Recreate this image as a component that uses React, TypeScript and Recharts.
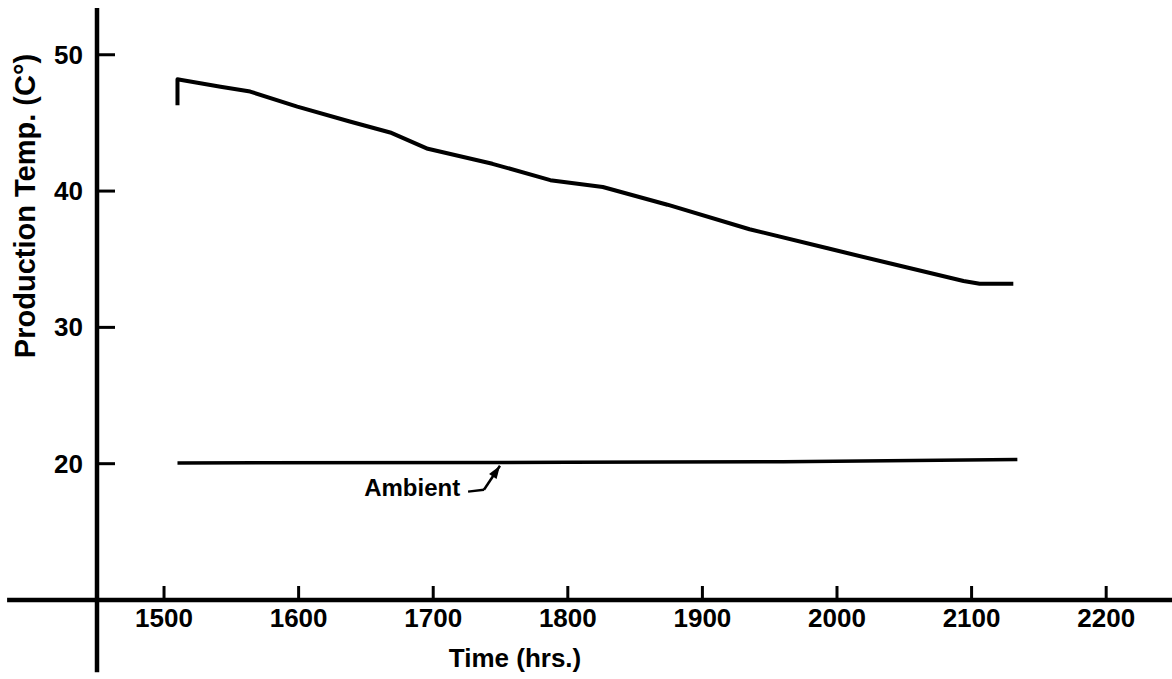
import React from "react";
import {
  LineChart,
  Line,
  XAxis,
  YAxis,
  ReferenceLine,
  ReferenceDot,
  Label,
} from "recharts";

// production temperature trace
const hours = [1510, 1510, 1513, 1542, 1564, 1599, 1638, 1668, 1696, 1744, 1787, 1826, 1874, 1935, 1993, 2039, 2094, 2106, 2131];
const productionTemp = [46.3, 48.2, 48.15, 47.65, 47.3, 46.2, 45.1, 44.3, 43.1, 42.0, 40.8, 40.3, 39.0, 37.2, 35.8, 34.7, 33.4, 33.2, 33.2];

// ambient line
const ambientHours = [1510, 1800, 1960, 2134];
const ambientTemp = [20.05, 20.1, 20.15, 20.3];

const xTicks = [1500, 1600, 1700, 1800, 1900, 2000, 2100, 2200];
const yTicks = [20, 30, 40, 50];

const X_DOMAIN: [number, number] = [1450.2, 2248.9];
const Y_DOMAIN: [number, number] = [10, 53.43];

// axis overhang past the crossing point
const X_AXIS_LEFT_END = 1383.4;
const Y_AXIS_BOTTOM_END = 4.7;

// "Ambient" callout arrow: tail, bend, tip
const arrowPath = [
  { x: 1725.9, y: 17.95 },
  { x: 1737.7, y: 18.09 },
  { x: 1749.6, y: 19.85 },
];
const ambientLabelPos = { x: 1720, y: 17.62 };

const productionData = hours.map((t, i) => ({ t, temp: productionTemp[i] }));
const ambientData = ambientHours.map((t, i) => ({ t, temp: ambientTemp[i] }));

const FONT = "'Liberation Sans', Arial, sans-serif";

const XTick = ({ x, y, payload }: any) => (
  <g>
    <line x1={x} y1={y} x2={x} y2={y - 14} stroke="#000" strokeWidth={3} />
    <text
      x={x}
      y={y + 27}
      textAnchor="middle"
      fontFamily={FONT}
      fontWeight="bold"
      fontSize={26}
      fill="#000"
    >
      {payload.value}
    </text>
  </g>
);

const YTick = ({ x, y, payload }: any) => (
  <g>
    <line x1={x} y1={y} x2={x + 18} y2={y} stroke="#000" strokeWidth={3} />
    <text
      x={x - 14}
      y={y + 9}
      textAnchor="end"
      fontFamily={FONT}
      fontWeight="bold"
      fontSize={26}
      fill="#000"
    >
      {payload.value}
    </text>
  </g>
);

const ArrowHead = ({ cx, cy }: any) => {
  if (cx == null || cy == null) return null;
  const ux = 0.55;
  const uy = -0.835;
  const len = 13;
  const hw = 4.5;
  const bx = cx - ux * len;
  const by = cy - uy * len;
  const px = -uy;
  const py = ux;
  return (
    <polygon
      points={`${cx},${cy} ${bx + px * hw},${by + py * hw} ${bx - px * hw},${by - py * hw}`}
      fill="#000"
    />
  );
};

const AmbientText = ({ cx, cy }: any) => {
  if (cx == null || cy == null) return null;
  return (
    <text x={cx} y={cy} textAnchor="end" fontFamily={FONT} fontWeight="bold" fontSize={24} fill="#000">
      Ambient
    </text>
  );
};

export default function App() {
  return (
    <div style={{ position: "absolute", left: 0, top: 0, width: 1172, height: 679, background: "#fff" }}>
      <LineChart width={1172} height={679} margin={{ top: 8, right: 0, bottom: 0, left: 0 }}>
        <XAxis
          type="number"
          dataKey="t"
          domain={X_DOMAIN}
          allowDataOverflow
          ticks={xTicks}
          tick={<XTick />}
          tickLine={false}
          tickSize={0}
          tickMargin={0}
          height={79}
          axisLine={{ stroke: "#000", strokeWidth: 4.5 }}
        >
          <Label
            content={() => (
              <text x={515} y={667} textAnchor="middle" fontFamily={FONT} fontWeight="bold" fontSize={26} fill="#000">
                Time (hrs.)
              </text>
            )}
          />
        </XAxis>
        <YAxis
          type="number"
          dataKey="temp"
          domain={Y_DOMAIN}
          allowDataOverflow
          ticks={yTicks}
          tick={<YTick />}
          tickLine={false}
          tickSize={0}
          tickMargin={0}
          width={97}
          axisLine={{ stroke: "#000", strokeWidth: 4.5 }}
        >
          <Label
            content={() => (
              <text
                x={35}
                y={206}
                transform="rotate(-90 35 206)"
                textAnchor="middle"
                fontFamily={FONT}
                fontWeight="bold"
                fontSize={29}
                fill="#000"
              >
                Production Temp. (C°)
              </text>
            )}
          />
        </YAxis>

        <ReferenceLine
          segment={[{ x: X_AXIS_LEFT_END, y: Y_DOMAIN[0] }, { x: X_DOMAIN[0], y: Y_DOMAIN[0] }]}
          ifOverflow="visible"
          stroke="#000"
          strokeWidth={4.5}
        />
        <ReferenceLine
          segment={[{ x: X_DOMAIN[0], y: Y_DOMAIN[0] }, { x: X_DOMAIN[0], y: Y_AXIS_BOTTOM_END }]}
          ifOverflow="visible"
          stroke="#000"
          strokeWidth={4.5}
        />

        <Line
          data={ambientData}
          dataKey="temp"
          type="linear"
          stroke="#000"
          strokeWidth={3.5}
          dot={false}
          activeDot={false}
          isAnimationActive={false}
        />
        <Line
          data={productionData}
          dataKey="temp"
          type="linear"
          stroke="#000"
          strokeWidth={4}
          strokeLinejoin="round"
          dot={false}
          activeDot={false}
          isAnimationActive={false}
        />

        <ReferenceLine segment={[arrowPath[0], arrowPath[1]]} stroke="#000" strokeWidth={2.5} ifOverflow="visible" />
        <ReferenceLine segment={[arrowPath[1], arrowPath[2]]} stroke="#000" strokeWidth={2.5} ifOverflow="visible" />
        <ReferenceDot x={arrowPath[2].x} y={arrowPath[2].y} r={0} shape={<ArrowHead />} ifOverflow="visible" />
        <ReferenceDot x={ambientLabelPos.x} y={ambientLabelPos.y} r={0} shape={<AmbientText />} ifOverflow="visible" />
      </LineChart>
    </div>
  );
}
